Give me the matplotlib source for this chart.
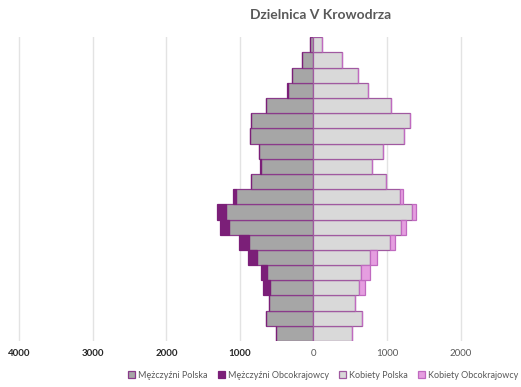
import matplotlib
matplotlib.use("Agg")
import matplotlib.pyplot as plt
import numpy as np

age_groups = ["0-4", "5-9", "10-14", "15-19", "20-24", "25-29", "30-34", "35-39",
              "40-44", "45-49", "50-54", "55-59", "60-64", "65-69", "70-74",
              "75-79", "80-84", "85-89", "90-94", "95+"]
men_pl = [513, 640, 608, 585, 631, 767, 880, 1148, 1193, 1048,
          845, 707, 740, 857, 845, 640, 345, 290, 150, 45]
men_foreign = [0, 0, 0, 95, 86, 122, 132, 127, 118, 45,
               10, 20, 0, 0, 0, 0, 10, 0, 0, 0]
women_pl = [521, 661, 566, 620, 653, 775, 1038, 1195, 1337, 1177,
            980, 797, 947, 1233, 1313, 1048, 743, 607, 390, 120]
women_foreign = [0, 0, 0, 87, 113, 95, 70, 60, 59, 36,
                 0, 0, 0, 0, 0, 0, 0, 0, 0, 0]
xticks = [-4000, -3000, -2000, -1000, 0, 1000, 2000]
xtick_labels = ["4000", "3000", "2000", "1000", "0", "1000", "2000"]

W, H = 521, 387
fig = plt.figure(figsize=(W / 100, H / 100), dpi=100)
ax = fig.add_axes([0, 1 - 341 / H, 1, (341 - 37.3) / H])

y = np.arange(len(age_groups))
mp = -np.array(men_pl)
mf = -np.array(men_foreign)
wp = np.array(women_pl)
wf = np.array(women_foreign)

ax.barh(y, mp, height=1.0, color="#a6a6a6", edgecolor="#8a3a8a", linewidth=0.9,
        label="Mężczyźni Polska", zorder=3)
ax.barh(y, mf, left=mp, height=1.0, color="#7b1f78", edgecolor="#7b1f78", linewidth=0.9,
        label="Mężczyźni Obcokrajowcy", zorder=3)
ax.barh(y, wp, height=1.0, color="#d9d9d9", edgecolor="#a05aa0", linewidth=0.9,
        label="Kobiety Polska", zorder=3)
ax.barh(y, wf, left=wp, height=1.0, color="#e59ee0", edgecolor="#c06ac0", linewidth=0.9,
        label="Kobiety Obcokrajowcy", zorder=3)

px = 1000 / 73.45
ax.set_xlim(-4000 - 19.3 * px, (W - 313.7) * px)
ax.set_ylim(-0.5, len(age_groups) - 0.5)
ax.set_xticks(xticks)
ax.set_xticklabels([])
ax.tick_params(length=0)
ax.set_yticks([])
for s in ax.spines.values():
    s.set_visible(False)
ax.grid(axis="x", color="#e3e3e3", linewidth=1.0, zorder=0)

for v, lab in zip(xticks, xtick_labels):
    xp = ax.transData.transform((v, 0))[0] / W
    if v < 0:
        fig.text(xp, 1 - 353 / H, lab, ha="center", va="center", fontsize=7,
                 color="#262626", fontweight="bold", family="Lato")
    else:
        fig.text(xp, 1 - 353 / H, lab, ha="center", va="center", fontsize=7,
                 color="#595959", family="Lato")

fig.text(321 / W, 1 - 15 / H, "Dzielnica V Krowodrza", ha="center", va="center",
         fontsize=10, fontweight="bold", color="#595959", family="Lato")

leg = fig.legend(loc="center", bbox_to_anchor=(323 / W, 1 - 375 / H), ncol=4,
                 frameon=False, prop={"family": "Lato", "size": 6.5},
                 labelcolor="#595959", handlelength=0.8, handleheight=0.8,
                 handletextpad=0.3, columnspacing=1.15)

fig.savefig("out.png", dpi=100)
